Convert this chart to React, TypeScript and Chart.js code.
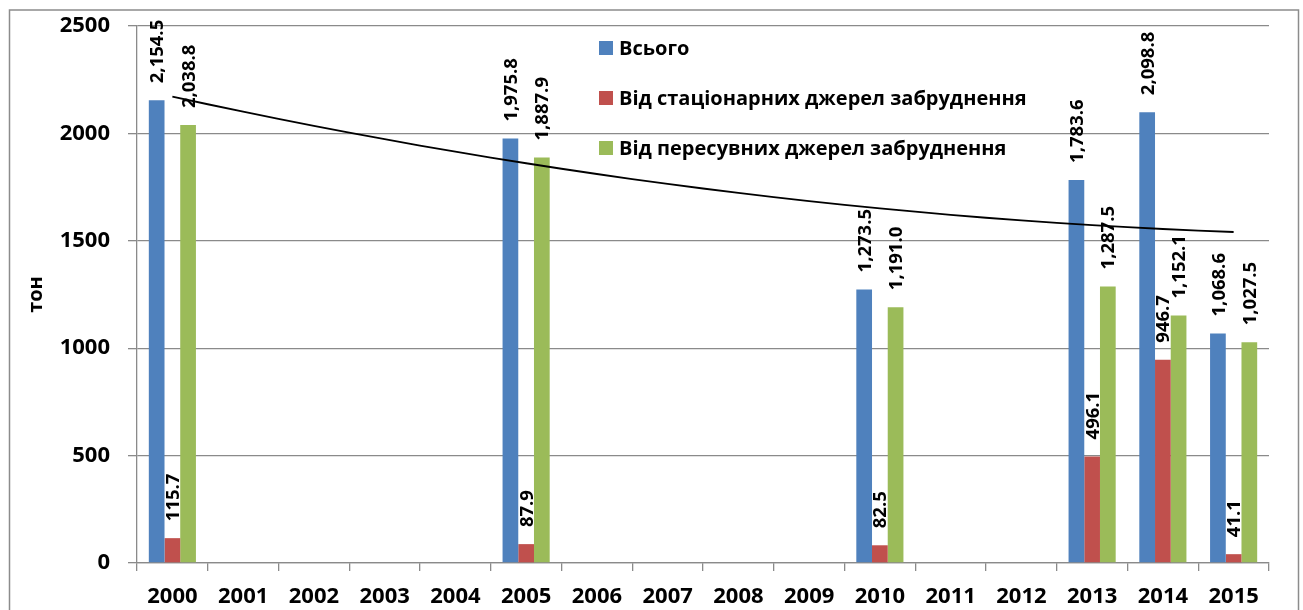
import React, { useEffect, useRef } from 'react';
import { Chart, registerables } from 'chart.js';

Chart.register(...registerables);

const years = ['2000', '2001', '2002', '2003', '2004', '2005', '2006', '2007', '2008', '2009', '2010', '2011', '2012', '2013', '2014', '2015'];
const totalValues = [2154.5, null, null, null, null, 1975.8, null, null, null, null, 1273.5, null, null, 1783.6, 2098.8, 1068.6];
const stationaryValues = [115.7, null, null, null, null, 87.9, null, null, null, null, 82.5, null, null, 496.1, 946.7, 41.1];
const mobileValues = [2038.8, null, null, null, null, 1887.9, null, null, null, null, 1191.0, null, null, 1287.5, 1152.1, 1027.5];
// trend line values at each category
const trendValues = [2171, 2101, 2035, 1973, 1915, 1861, 1811, 1765, 1723, 1685, 1651, 1621, 1595, 1573, 1555, 1541];
const seriesNames = ['Всього', 'Від стаціонарних джерел забруднення', 'Від пересувних джерел забруднення'];
const seriesColors = ['#4F81BD', '#C0504D', '#9BBB59'];
const yAxisTitle = 'тон';
const yMin = 0;
const yMax = 2500;
const yStep = 500;

const FONT = '"Open Sans", "Noto Sans", sans-serif';
const GRID = '#8a8a8a';

const fmt = (v: number) =>
  v.toLocaleString('en-US', { minimumFractionDigits: 1, maximumFractionDigits: 1 });

const framePlugin = {
  id: 'frame',
  beforeDraw(chart: any) {
    const { ctx, width, height } = chart;
    ctx.save();
    ctx.fillStyle = '#ffffff';
    ctx.fillRect(0, 0, width, height);
    ctx.strokeStyle = '#8c8c8c';
    ctx.lineWidth = 1.5;
    ctx.strokeRect(9.5, 10, 1289, 640);
    ctx.restore();
  },
};

const dataLabelPlugin = {
  id: 'vlabels',
  afterDatasetsDraw(chart: any) {
    const { ctx } = chart;
    ctx.save();
    ctx.font = `bold 18.5px ${FONT}`;
    ctx.fillStyle = '#000000';
    ctx.textAlign = 'left';
    ctx.textBaseline = 'alphabetic';
    chart.data.datasets.forEach((ds: any, di: number) => {
      if (ds.type === 'line') return;
      const meta = chart.getDatasetMeta(di);
      meta.data.forEach((el: any, i: number) => {
        const v = ds.data[i];
        if (v === null || v === undefined) return;
        ctx.save();
        ctx.translate(el.x + 6.6, el.y - 17);
        ctx.rotate(-Math.PI / 2);
        ctx.fillText(fmt(v), 0, 0);
        ctx.restore();
      });
    });
    ctx.restore();
  },
};

const legendPlugin = {
  id: 'customLegend',
  afterDraw(chart: any) {
    const { ctx } = chart;
    ctx.save();
    ctx.font = `bold 20px ${FONT}`;
    ctx.textAlign = 'left';
    ctx.textBaseline = 'middle';
    const rowsY = [48, 98, 148];
    seriesNames.forEach((name, i) => {
      ctx.fillStyle = seriesColors[i];
      ctx.fillRect(599, rowsY[i] - 7, 14, 14);
      ctx.fillStyle = '#000000';
      ctx.fillText(name, 619, rowsY[i] + 1);
    });
    ctx.restore();
  },
};

export default function App() {
  const ref = useRef<HTMLCanvasElement>(null);
  useEffect(() => {
    if (!ref.current) return;
    const chart = new Chart(ref.current, {
      type: 'bar',
      data: {
        labels: years,
        datasets: [
          {
            type: 'line',
            label: 'trend',
            data: trendValues,
            borderColor: '#000000',
            borderWidth: 1.8,
            pointRadius: 0,
            tension: 0.4,
            fill: false,
            order: 0,
          } as any,
          {
            label: seriesNames[0],
            data: totalValues,
            backgroundColor: seriesColors[0],
            order: 1,
          },
          {
            label: seriesNames[1],
            data: stationaryValues,
            backgroundColor: seriesColors[1],
            order: 1,
          },
          {
            label: seriesNames[2],
            data: mobileValues,
            backgroundColor: seriesColors[2],
            order: 1,
          },
        ],
      },
      options: {
        responsive: false,
        animation: false,
        devicePixelRatio: 1,
        datasets: {
          bar: { categoryPercentage: 0.666, barPercentage: 1.0 },
        },
        layout: { padding: { left: 0, top: 26, right: 34, bottom: 0 } },
        plugins: {
          legend: { display: false },
          tooltip: { enabled: false },
        },
        scales: {
          x: {
            grid: {
              display: true,
              drawOnChartArea: false,
              drawTicks: true,
              tickLength: 8,
              color: GRID,
              lineWidth: 1.3,
            },
            border: { display: true, color: GRID, width: 1.3 },
            ticks: {
              color: '#000000',
              font: { family: FONT, size: 22, weight: 'bold' },
              padding: 13,
              maxRotation: 0,
              autoSkip: false,
            },
            afterFit(scale: any) {
              scale.height = 47;
              scale.paddingLeft = 0;
              scale.paddingRight = 0;
            },
          },
          y: {
            min: yMin,
            max: yMax,
            grid: {
              color: GRID,
              lineWidth: 1.3,
              drawTicks: true,
              tickLength: 9,
            },
            border: { display: true, color: GRID, width: 1.3 },
            ticks: {
              stepSize: yStep,
              color: '#000000',
              font: { family: FONT, size: 22, weight: 'bold' },
              padding: 18,
              callback: (v: any) => String(v),
            },
            title: {
              display: true,
              text: yAxisTitle,
              color: '#000000',
              font: { family: FONT, size: 20, weight: 'bold' },
              padding: { top: 24, bottom: 0 },
            },
            afterFit(scale: any) {
              scale.width = 137;
              scale.paddingTop = 0;
              scale.paddingBottom = 0;
            },
          },
        },
      },
      plugins: [framePlugin, dataLabelPlugin, legendPlugin],
    });
    return () => chart.destroy();
  }, []);
  return (
    <div style={{ position: 'fixed', left: 0, top: 0, width: 1303, height: 610 }}>
      <canvas ref={ref} width={1303} height={610} />
    </div>
  );
}
